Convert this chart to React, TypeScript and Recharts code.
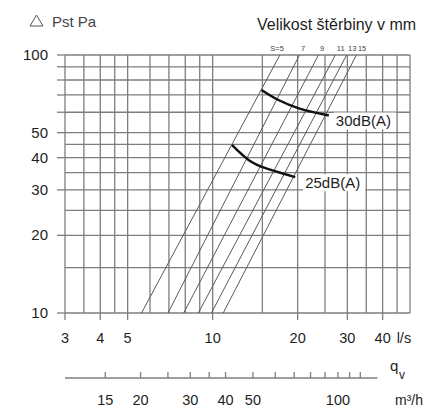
import React from "react";
import { LineChart, Line, XAxis, YAxis, CartesianGrid } from "recharts";

// slot width S (mm) and the flow (l/s) where each line meets 10 Pa and 100 Pa
const slotWidths = [5, 7, 9, 11, 13, 15];
const flowAt10Pa = [5.6, 6.95, 7.9, 8.9, 9.9, 10.9];
const flowAt100Pa = [17.3, 20.3, 23.7, 27.2, 29.8, 32.3];

// noise curves
const db30Flow = [14.9, 17.1, 20.2, 23.1, 25.8];
const db30Pressure = [73.2, 66.9, 62.1, 59.8, 58.3];
const db25Flow = [11.7, 13.4, 15.4, 17.6, 19.6];
const db25Pressure = [44.8, 39.2, 36.4, 34.8, 33.6];

const pressureTicks = [10, 15, 20, 25, 30, 35, 40, 45, 50, 60, 70, 80, 90, 100];
const pressureLabels = [10, 20, 30, 40, 50, 100];
const pressureLongTicks = [10, 20, 30, 40, 50, 60, 70, 80, 90, 100];

const flowTicks = [3, 3.5, 4, 4.5, 5, 6, 7, 8, 9, 10, 15, 20, 25, 30, 35, 40, 45, 50];
const flowLabels = [3, 4, 5, 10, 20, 30, 40];

// m3/h scale = l/s * 3.6, first and last entries are the ends of the scale line
const m3hTicks = [10.8, 15, 20, 25, 30, 35, 40, 50, 60, 70, 80, 90, 100, 110, 120, 138];
const m3hLabels = [15, 20, 30, 40, 50, 100];

const W = 436;
const H = 410;
const M = { top: 55, right: 26, left: 8, bottom: 0 };
const Y_AXIS_W = 57;
const PLOT_W = W - M.left - M.right - Y_AXIS_W;
const M3H_DOMAIN = [10.8, 180];
const PX_PER_DECADE_M3H = PLOT_W / Math.log10(M3H_DOMAIN[1] / M3H_DOMAIN[0]);

const GRID = "#7e7e7e";
const INK = "#1e1e1e";
const FONT = '"Liberation Sans", Arial, sans-serif';

const PressureTick = ({ x, y, payload }: any) => {
  const v = payload.value;
  return (
    <g>
      {pressureLongTicks.includes(v) && (
        <line x1={x - 8} x2={x} y1={y} y2={y} stroke={GRID} strokeWidth={1.3} />
      )}
      {pressureLabels.includes(v) && (
        <text x={x - 17} y={y + 5} textAnchor="end" fontSize={15} fill={INK} fontFamily={FONT}>
          {v}
        </text>
      )}
    </g>
  );
};

const FlowTick = ({ x, y, payload }: any) => {
  const v = payload.value;
  if (!flowLabels.includes(v)) return <g />;
  return (
    <g>
      <line x1={x} x2={x} y1={y} y2={y + 7} stroke={GRID} strokeWidth={1.3} />
      <text x={x} y={y + 30} textAnchor="middle" fontSize={14.5} fill={INK} fontFamily={FONT}>
        {v}
      </text>
      {v === 40 && (
        <text x={x + 14} y={y + 30} fontSize={14.5} fill={INK} fontFamily={FONT}>
          l/s
        </text>
      )}
    </g>
  );
};

const M3hTick = ({ x, y, payload, index }: any) => {
  const v = payload.value;
  const first = index === 0;
  const last = index === m3hTicks.length - 1;
  return (
    <g>
      {first && (
        <line
          x1={x}
          x2={x + PX_PER_DECADE_M3H * Math.log10(m3hTicks[m3hTicks.length - 1] / v)}
          y1={y}
          y2={y}
          stroke={GRID}
          strokeWidth={1.3}
        />
      )}
      {!first && !last && <line x1={x} x2={x} y1={y - 6} y2={y} stroke={GRID} strokeWidth={1.3} />}
      {m3hLabels.includes(v) && (
        <text x={x} y={y + 27} textAnchor="middle" fontSize={14.5} fill={INK} fontFamily={FONT}>
          {v}
        </text>
      )}
    </g>
  );
};

const slotLabel = (s: number) => (props: any) => {
  if (props.index !== 1) return <g />;
  const first = s === slotWidths[0];
  return (
    <text
      x={props.x + (first ? 4 : 1.5)}
      y={props.y - 4}
      textAnchor={first ? "end" : "start"}
      fontSize={7.5}
      fill="#444"
      fontFamily={FONT}
    >
      {first ? `S=${s}` : s}
    </text>
  );
};

const dbLabel = (text: string, lastIndex: number, dx: number) => (props: any) => {
  if (props.index !== lastIndex) return <g />;
  return (
    <g>
      <rect x={props.x + dx - 2} y={props.y - 3} width={62} height={17} fill="#fff" />
      <text x={props.x + dx} y={props.y + 11} fontSize={15} fill={INK} fontFamily={FONT}>
        {text}
      </text>
    </g>
  );
};

export default function App() {
  const db30 = db30Flow.map((q, i) => ({ q, p: db30Pressure[i] }));
  const db25 = db25Flow.map((q, i) => ({ q, p: db25Pressure[i] }));
  const m3hScale = m3hTicks.map((m3h) => ({ m3h }));

  return (
    <div style={{ position: "absolute", left: 0, top: 0, width: W, height: H, background: "#fff", fontFamily: FONT }}>
      <LineChart width={W} height={H} margin={M} data={m3hScale}>
        <CartesianGrid stroke={GRID} strokeWidth={1.3} />
        <XAxis
          dataKey="q"
          type="number"
          scale="log"
          domain={[3, 50]}
          ticks={flowTicks}
          interval={0}
          tick={<FlowTick />}
          tickLine={false}
          axisLine={false}
          tickSize={0}
          tickMargin={0}
          height={65}
        />
        <XAxis
          xAxisId="m3h"
          dataKey="m3h"
          type="number"
          scale="log"
          domain={M3H_DOMAIN}
          allowDataOverflow
          ticks={m3hTicks}
          interval={0}
          tick={<M3hTick />}
          tickLine={false}
          axisLine={false}
          tickSize={0}
          tickMargin={0}
          height={32}
        />
        <YAxis
          type="number"
          scale="log"
          domain={[10, 100]}
          ticks={pressureTicks}
          interval={0}
          tick={<PressureTick />}
          tickLine={false}
          axisLine={false}
          tickSize={0}
          tickMargin={0}
          width={Y_AXIS_W}
        />
        {slotWidths.map((s, i) => (
          <Line
            key={s}
            data={[
              { q: flowAt10Pa[i], p: 10 },
              { q: flowAt100Pa[i], p: 100 },
            ]}
            dataKey="p"
            type="linear"
            stroke="#5a5a5a"
            strokeWidth={1}
            dot={false}
            activeDot={false}
            isAnimationActive={false}
            label={slotLabel(s)}
          />
        ))}
        <Line
          data={db30}
          dataKey="p"
          type="natural"
          stroke="#111"
          strokeWidth={2.4}
          dot={false}
          activeDot={false}
          isAnimationActive={false}
          label={dbLabel("30dB(A)", db30.length - 1, 7)}
        />
        <Line
          data={db25}
          dataKey="p"
          type="natural"
          stroke="#111"
          strokeWidth={2.4}
          dot={false}
          activeDot={false}
          isAnimationActive={false}
          label={dbLabel("25dB(A)", db25.length - 1, 10)}
        />
      </LineChart>
      <svg
        width={W}
        height={H}
        style={{ position: "absolute", left: 0, top: 0, pointerEvents: "none" }}
        fontFamily={FONT}
      >
        <polygon points="30,26 43,26 36.5,15" fill="none" stroke="#555" strokeWidth={1} />
        <text x={52} y={27} fontSize={15} fill="#444">
          Pst Pa
        </text>
        <text x={257} y={30} fontSize={16} fill={INK}>
          Velikost štěrbiny v mm
        </text>
        <text x={390} y={371} fontSize={15} fill={INK}>
          q
        </text>
        <text x={399} y={379} fontSize={12} fill={INK}>
          v
        </text>
        <text x={395} y={405} fontSize={14} fill={INK}>
          m³/h
        </text>
      </svg>
    </div>
  );
}
